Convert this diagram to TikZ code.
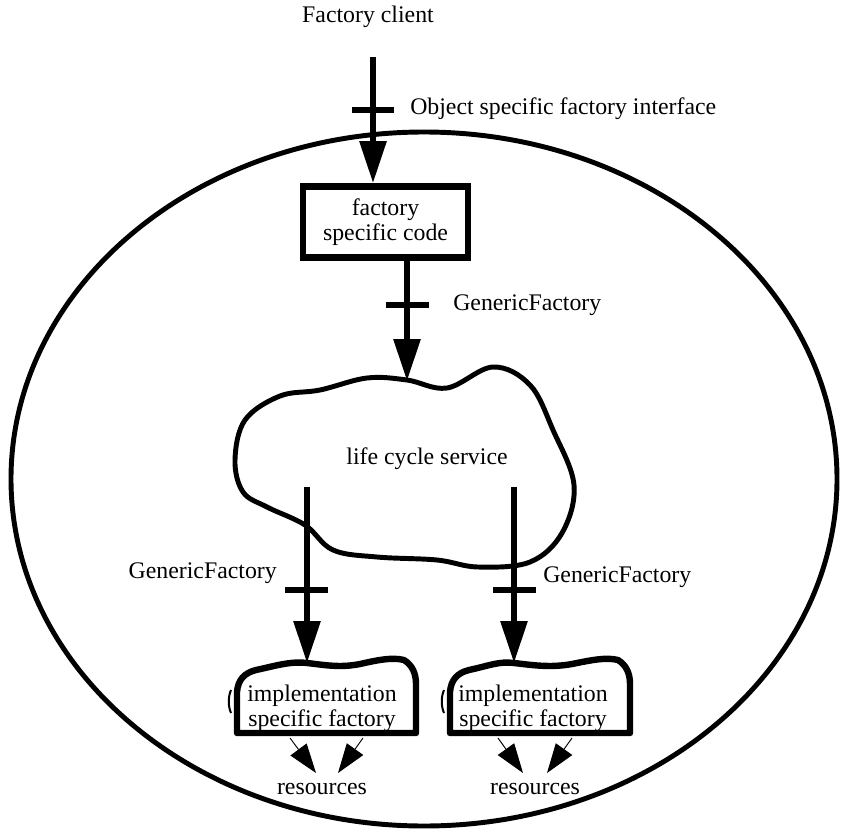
\documentclass[tikz,border=0pt]{standalone}
\usepackage{fontspec}
\setmainfont{Liberation Serif}
\usetikzlibrary{arrows.meta}

\begin{document}
\begin{tikzpicture}[x=0.75pt,y=-0.75pt,
  lbl/.style={font=\fontsize{17.85}{19}\selectfont, inner sep=0pt, align=center},
  flow/.style={line width=4.4pt, -{Triangle[length=31.5pt,width=19.5pt]}},
  crossbar/.style={line width=4.8pt},
  outline/.style={line width=3.7pt, line join=round},
  codebox/.style={draw, line width=4.8pt, minimum width=123.5pt, minimum height=53.5pt,
    font=\fontsize{17.85}{19}\selectfont, align=center, inner sep=0pt},
  implbox/.style={line width=4.8pt, line join=round},
  use/.style={line width=0.7pt, -{Triangle[length=22pt,width=15pt]}}
]
\useasboundingbox (0,0) rectangle (841,831);

% enclosing object boundary
\draw[outline] (424,479) ellipse [x radius=309.75pt, y radius=260.25pt];

% client side
\node[lbl] (client) at (368,17) {Factory client};
\coordinate (cl) at (373,57);
\node[codebox] (fsc) at (385.5,222) {factory\\specific code};
\draw[flow] (cl) -- (cl |- fsc.north);
\draw[crossbar] (352,110) -- (394,110);
\node[lbl, anchor=west] (ifc) at (410,109) {Object specific factory interface};

% life cycle service
\draw[outline] plot[smooth cycle, tension=0.6] coordinates {
  (407,380) (447,388) (493,367) (530,385) (553,430) (574,485) (562,533)
  (530,562) (478,567) (437,560) (377,557) (333,550) (305,525) (267,507)
  (243,492) (235,460) (245,420) (280,396) (320,390) (367,378)};
\node[lbl] (lcs) at (427,459) {life cycle service};
\coordinate (fscout) at (407,258);
\coordinate (lcsin) at (407,381);
\draw[flow] (fscout) -- (lcsin);
\draw[crossbar] (386,305) -- (429,305);
\node[lbl, anchor=west] (gf1) at (453,305) {GenericFactory};

% implementation specific factories
\draw[implbox] (237,733) -- (237,692) .. controls (238,680) and (244,673) .. (256,670)
  .. controls (275,666) and (290,661) .. (307,663) .. controls (325,665) and (340,668) .. (360,664)
  .. controls (378,660) and (392,657) .. (404,660) .. controls (412,665) and (416,673) .. (416,684)
  -- (416,733) -- cycle;
\draw[line width=1.5pt] (231,690) .. controls (228,697) and (228,706) .. (231,713);
\node[lbl] (isf1) at (322,708) {implementation\\specific factory};

\draw[implbox] (450,733) -- (450,692) .. controls (451,680) and (457,673) .. (469,670)
  .. controls (488,666) and (499,661) .. (514,663) .. controls (532,665) and (550,668) .. (572,664)
  .. controls (592,660) and (606,657) .. (618,660) .. controls (626,665) and (630,673) .. (630,684)
  -- (630,733) -- cycle;
\draw[line width=1.5pt] (444,690) .. controls (441,697) and (441,706) .. (444,713);
\node[lbl] (isf2) at (533,708) {implementation\\specific factory};

\coordinate (l1) at (307,487);
\coordinate (l1e) at (307,663);
\draw[flow] (l1) -- (l1e);
\draw[crossbar] (285,590) -- (328,590);
\node[lbl, anchor=east] (gf2) at (277,573) {GenericFactory};

\coordinate (r1) at (514,487);
\coordinate (r1e) at (514,663);
\draw[flow] (r1) -- (r1e);
\draw[crossbar] (493,590) -- (536,590);
\node[lbl, anchor=west] (gf3) at (543,577) {GenericFactory};

% resources
\node[lbl] (res1) at (322,789) {resources};
\node[lbl] (res2) at (535,789) {resources};
\coordinate (u1a) at (290,738); \coordinate (u1b) at (316,773);
\coordinate (u2a) at (363,738); \coordinate (u2b) at (338,773);
\coordinate (u3a) at (498,738); \coordinate (u3b) at (523,773);
\coordinate (u4a) at (572,738); \coordinate (u4b) at (547,773);
\draw[use] (u1a) -- (u1b);
\draw[use] (u2a) -- (u2b);
\draw[use] (u3a) -- (u3b);
\draw[use] (u4a) -- (u4b);
\end{tikzpicture}
\end{document}
